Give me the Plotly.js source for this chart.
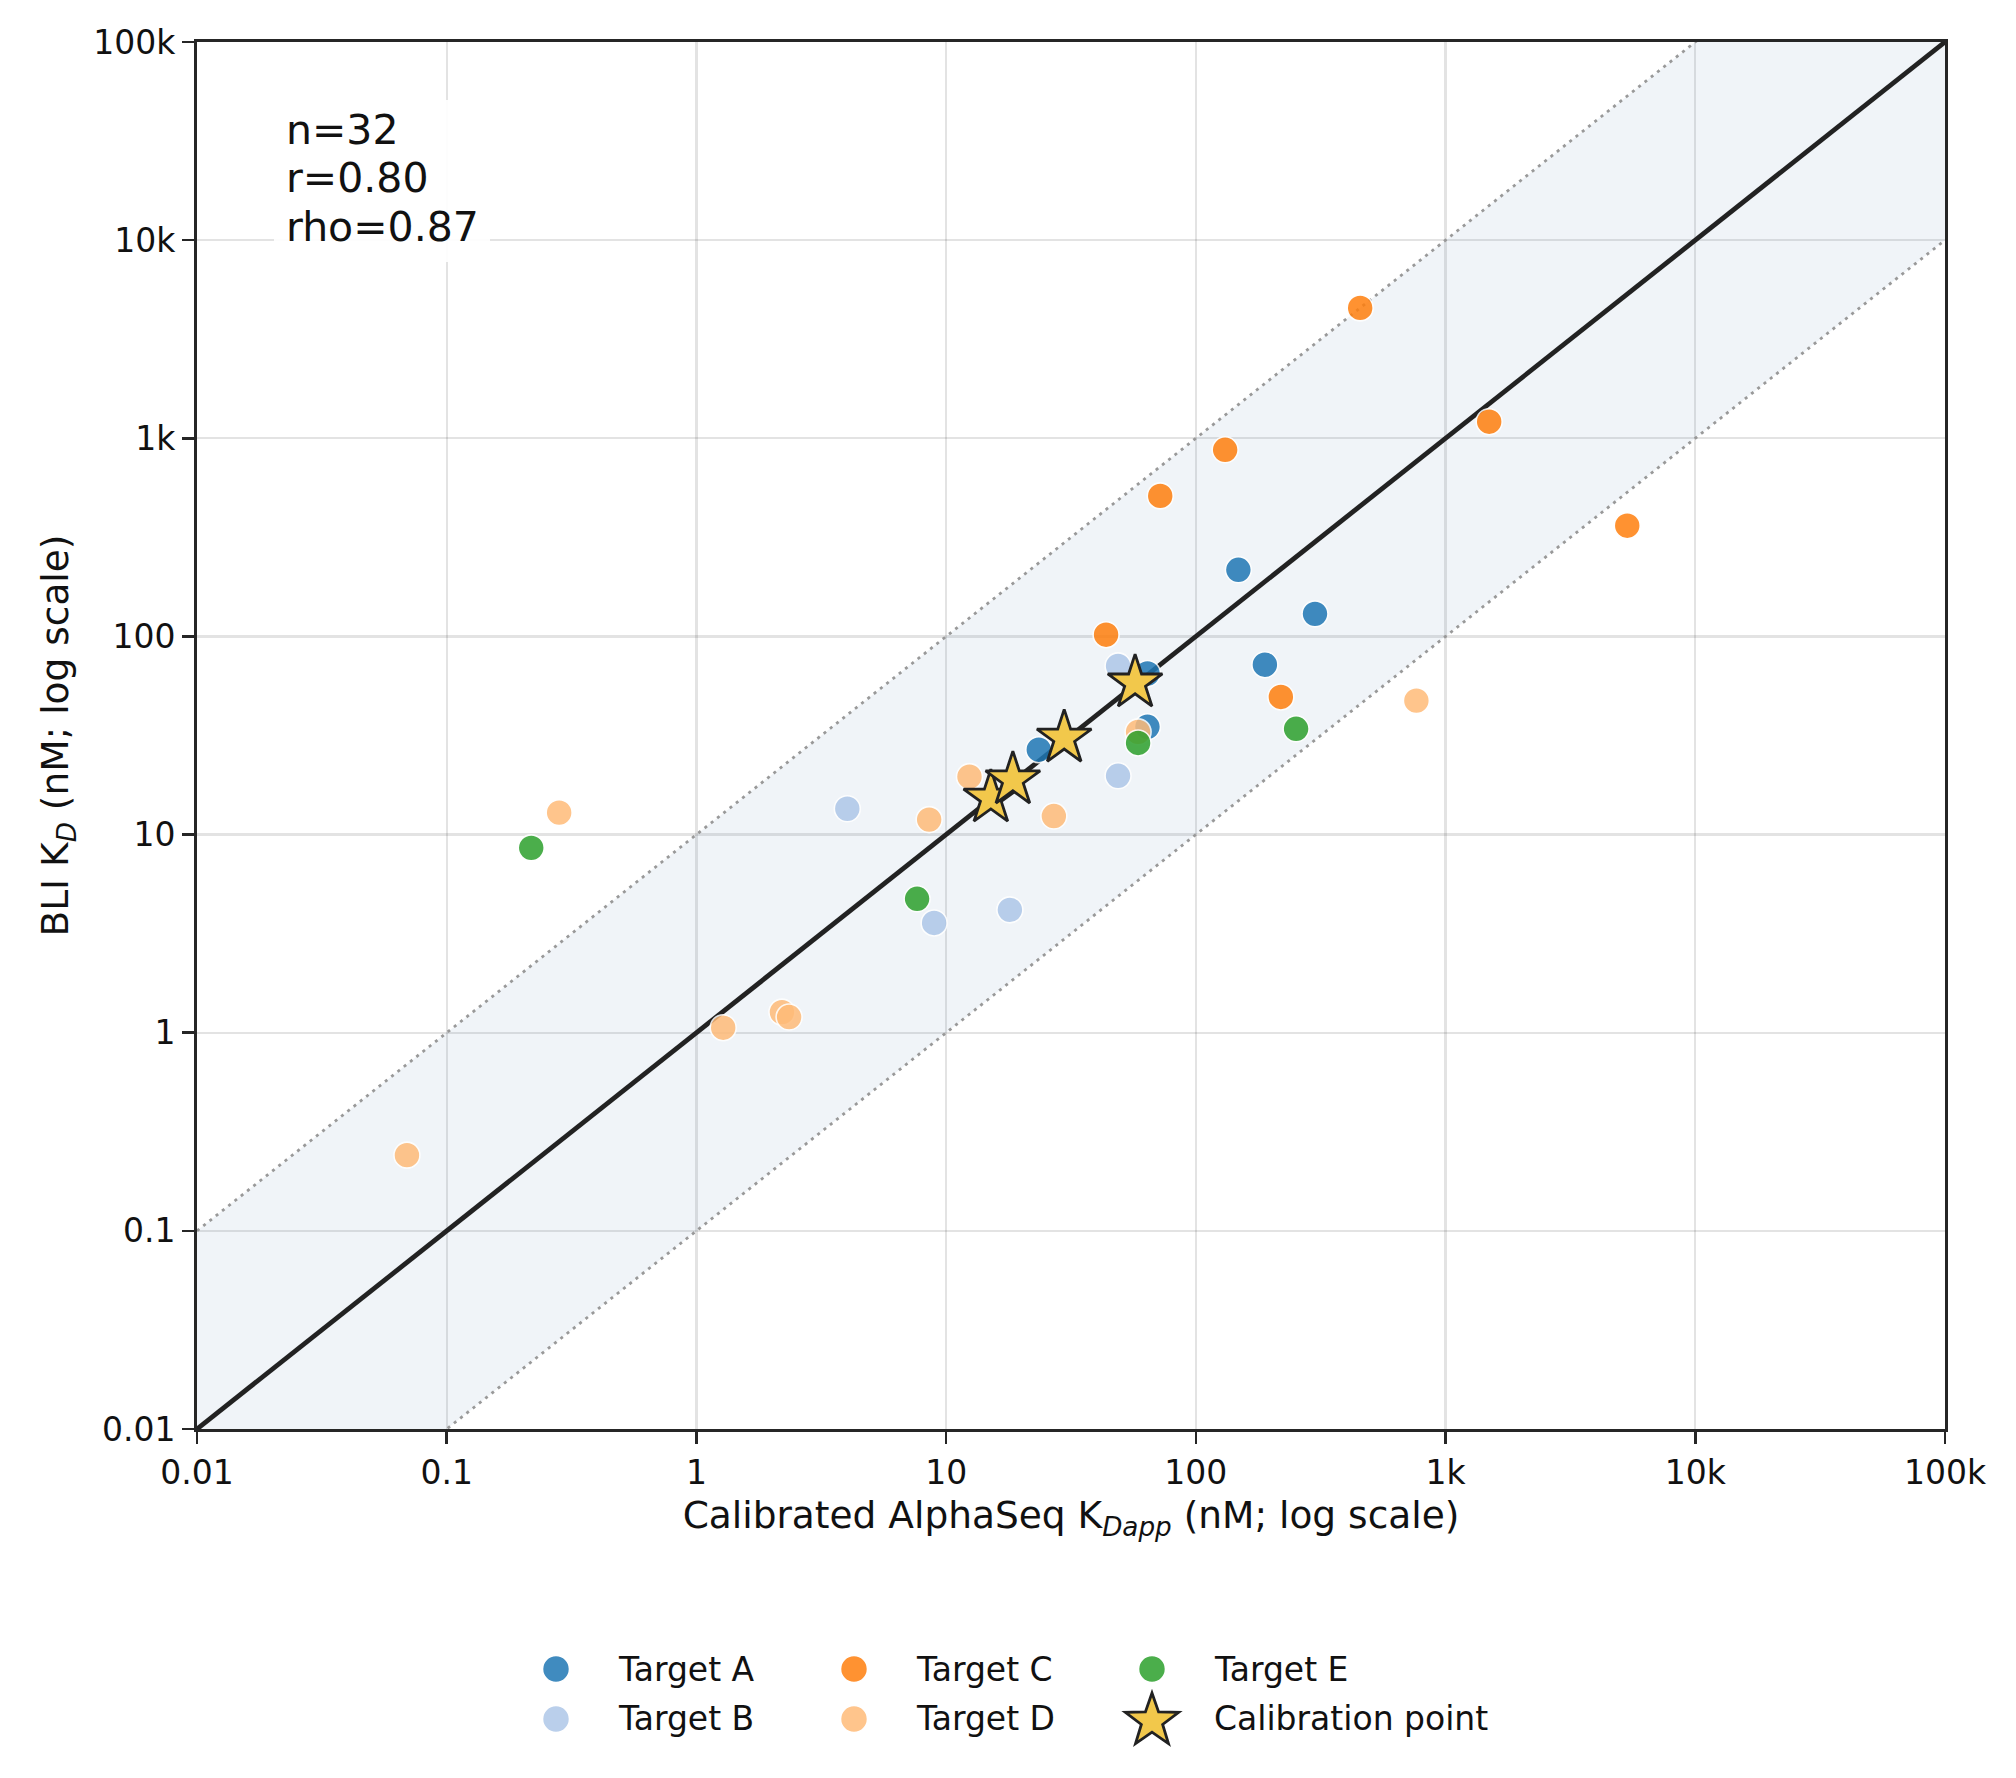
<!DOCTYPE html>
<html><head><meta charset="utf-8">
<script src="https://cdn.plot.ly/plotly-3.0.1.min.js"></script>
<style>html,body{margin:0;padding:0;background:#fff}</style>
</head><body><div id="chart" style="width:2016px;height:1778px"></div>
<script>
// ---- data ----
const tickVals = [0.01, 0.1, 1, 10, 100, 1000, 10000, 100000];
const tickText = ['0.01', '0.1', '1', '10', '100', '1k', '10k', '100k'];
const axisMin = 0.01, axisMax = 100000, bandFold = 10;

const targetA_x = [148, 300, 189, 64, 64, 23.5];
const targetA_y = [217, 130, 72, 65, 35, 26.8];
const targetB_x = [48.8, 48.8, 4.02, 8.95, 18.0];
const targetB_y = [71, 19.8, 13.5, 3.58, 4.17];
const targetC_x = [455, 131, 72, 1495, 5340, 43.7, 219];
const targetC_y = [4550, 875, 512, 1212, 362, 102, 49.5];
const targetD_x = [58.7, 12.4, 8.55, 27, 764, 0.282, 1.28, 2.20, 2.35, 0.0693];
const targetD_y = [33, 19.6, 11.9, 12.4, 47.4, 12.9, 1.06, 1.27, 1.20, 0.241];
const targetE_x = [58.7, 252, 7.65, 0.218];
const targetE_y = [29, 34.2, 4.74, 8.57];
const calib_x = [15.1, 18.5, 29.7, 57.1];
const calib_y = [15.3, 18.9, 30.7, 58.3];

const seriesNames = ['Target A', 'Target B', 'Target C', 'Target D', 'Target E'];
const seriesColors = ['#1f77b4', '#aec7e8', '#ff7f0e', '#ffbb78', '#2ca02c'];
const calibName = 'Calibration point';
const statsLines = ['n=32', 'r=0.80', 'rho=0.87'];

// ---- build ----
const FONT = 'DejaVu Sans, Verdana, sans-serif';
const seriesX = [targetA_x, targetB_x, targetC_x, targetD_x, targetE_x];
const seriesY = [targetA_y, targetB_y, targetC_y, targetD_y, targetE_y];

const traces = [];
traces.push({
  x: [axisMin, axisMax, axisMax, axisMin],
  y: [axisMin * bandFold, axisMax * bandFold, axisMax / bandFold, axisMin / bandFold],
  mode: 'lines', fill: 'toself', fillcolor: 'rgba(70,110,170,0.08)',
  line: {width: 0}, hoverinfo: 'skip', showlegend: false
});
traces.push({
  x: [axisMin, axisMax], y: [axisMin * bandFold, axisMax * bandFold],
  mode: 'lines', line: {color: '#999999', width: 2.8, dash: '3px,5px'}, showlegend: false
});
traces.push({
  x: [axisMin, axisMax], y: [axisMin / bandFold, axisMax / bandFold],
  mode: 'lines', line: {color: '#999999', width: 2.8, dash: '3px,5px'}, showlegend: false
});
traces.push({
  x: [axisMin, axisMax], y: [axisMin, axisMax],
  mode: 'lines', line: {color: '#222222', width: 4.8}, showlegend: false
});
for (let i = 0; i < seriesNames.length; i++) {
  traces.push({
    x: seriesX[i], y: seriesY[i], name: seriesNames[i], mode: 'markers', showlegend: false,
    marker: {size: 26, color: seriesColors[i], opacity: 0.85, line: {color: '#ffffff', width: 1.6}}
  });
}
traces.push({
  x: calib_x, y: calib_y, name: calibName, mode: 'markers', showlegend: false,
  marker: {symbol: 'star', size: 41, color: '#f2c84b', line: {color: '#222222', width: 2.8}}
});

// plot area geometry (px)
const W = 2016, H = 1778;
const M = {l: 197, r: 71, t: 42, b: 349};
const pw = W - M.l - M.r, ph = H - M.t - M.b;
const px2x = p => (p - M.l) / pw;
const px2y = p => (H - M.b - p) / ph;

const shapes = [];
const annotations = [];

// stats box
shapes.push({type: 'rect', xref: 'paper', yref: 'paper', layer: 'above',
  x0: px2x(274), x1: px2x(490), y0: px2y(262), y1: px2y(100),
  fillcolor: 'rgba(255,255,255,0.9)', line: {width: 0}});
const statY = [130, 178, 227];
statsLines.forEach((t, i) => annotations.push({
  xref: 'paper', yref: 'paper', x: px2x(284), y: px2y(statY[i]), xanchor: 'left', yanchor: 'middle',
  text: t, showarrow: false, font: {family: FONT, size: 41, color: '#111'}
}));

// custom legend (3 columns x 2 rows, column-major)
const legCols = [556, 854, 1152], legRows = [1669, 1719];
const legendItems = seriesNames.map((n, i) => ({name: n, color: seriesColors[i], star: false}))
  .concat([{name: calibName, color: '#f2c84b', star: true}]);
function starPath(R, r) {
  let d = '';
  for (let k = 0; k < 10; k++) {
    const rad = (k % 2 === 0) ? R : r;
    const a = Math.PI / 2 + k * Math.PI / 5;
    const x = rad * Math.cos(a), y = rad * Math.sin(a);
    d += (k === 0 ? 'M' : 'L') + x.toFixed(2) + ',' + y.toFixed(2);
  }
  return d + 'Z';
}
legendItems.forEach((it, i) => {
  const cx = legCols[Math.floor(i / 2)], cy = legRows[i % 2];
  if (it.star) {
    shapes.push({type: 'path', xref: 'paper', yref: 'paper', xsizemode: 'pixel', ysizemode: 'pixel',
      xanchor: px2x(cx), yanchor: px2y(cy + 2), path: starPath(28, 11.2),
      fillcolor: it.color, line: {color: '#222222', width: 2.8}});
  } else {
    shapes.push({type: 'circle', xref: 'paper', yref: 'paper', xsizemode: 'pixel', ysizemode: 'pixel',
      xanchor: px2x(cx), yanchor: px2y(cy), x0: -13.5, x1: 13.5, y0: -13.5, y1: 13.5,
      fillcolor: it.color, opacity: 0.85, line: {color: '#ffffff', width: 1.6}});
  }
  annotations.push({xref: 'paper', yref: 'paper', x: px2x(cx + 60), y: px2y(cy), xanchor: 'left', yanchor: 'middle',
    text: it.name, showarrow: false, font: {family: FONT, size: 33, color: '#111'}});
});

const axisCommon = {
  type: 'log', range: [Math.log10(axisMin), Math.log10(axisMax)],
  tickmode: 'array', tickvals: tickVals, ticktext: tickText,
  ticks: 'outside', ticklen: 12, tickwidth: 2.6, tickcolor: '#262626',
  showline: true, mirror: true, linecolor: '#262626', linewidth: 3,
  showgrid: true, gridcolor: 'rgba(0,0,0,0.11)', gridwidth: 2.4, zeroline: false,
  tickfont: {family: FONT, size: 33, color: '#111'}, automargin: false
};

const layout = {
  width: W, height: H, margin: M, showlegend: false,
  paper_bgcolor: '#ffffff', plot_bgcolor: '#ffffff',
  font: {family: FONT, color: '#111'},
  xaxis: Object.assign({}, axisCommon, {
    title: {text: 'Calibrated AlphaSeq K<sub><i>Dapp</i></sub> (nM; log scale)', font: {family: FONT, size: 37.5, color: '#111'}, standoff: 12}
  }),
  yaxis: Object.assign({}, axisCommon, {
    title: {text: 'BLI K<sub><i>D</i></sub> (nM; log scale)', font: {family: FONT, size: 37.5, color: '#111'}, standoff: 14}
  }),
  shapes: shapes, annotations: annotations
};

Plotly.newPlot('chart', traces, layout, {staticPlot: true, displayModeBar: false});
</script></body></html>
